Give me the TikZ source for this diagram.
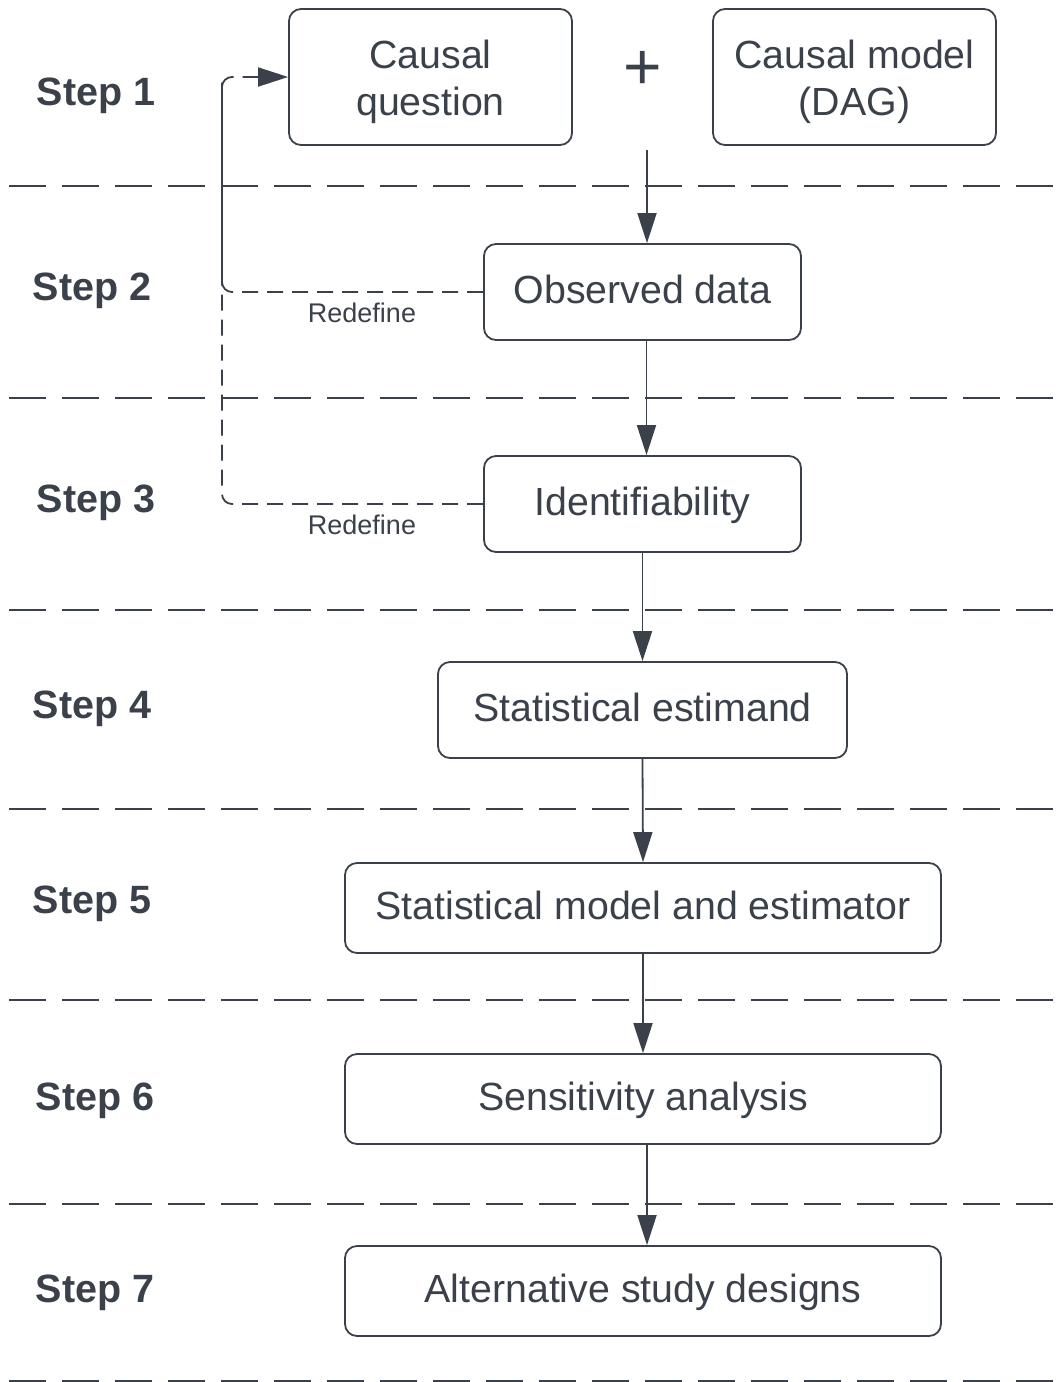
\documentclass[tikz,border=0pt]{standalone}
\usepackage{fontspec}
\setmainfont{Liberation Sans}
\usetikzlibrary{arrows.meta,calc}
\definecolor{ink}{HTML}{3A414A}
\begin{document}
\begin{tikzpicture}[x=1pt,y=-1pt,
  boxbase/.style={draw=ink,line width=1.8pt,rounded corners=12pt,text=ink,align=center,
    font=\fontsize{39.3}{47}\selectfont,inner sep=0pt},
  box/.style={boxbase,text height=28pt,text depth=6pt},
  boxtext/.style={text=ink,align=center,font=\fontsize{39.3}{47}\selectfont,inner sep=0pt},
  steplabel/.style={text=ink,font=\fontsize{39.5}{44}\selectfont\bfseries},
  sep/.style={draw=ink,line width=1.8pt,dash pattern=on 37pt off 16pt},
  flow/.style={draw=ink,line width=1.8pt,-{Triangle[width=19pt,length=30pt]}},
  loop/.style={draw=ink,line width=1.8pt,dash pattern=on 16pt off 9pt,rounded corners=10pt},
  note/.style={text=ink,font=\fontsize{27}{32}\selectfont}]
\useasboundingbox (0,0) rectangle (1063,1382);

% stage separators
\foreach \yy in {186,398,610,809,1000,1204,1381}
  \draw[sep] (9,\yy) -- (1063,\yy);

% step labels
\node[steplabel] (s1) at (96,96) {Step 1};
\node[steplabel] (s2) at (92,291) {Step 2};
\node[steplabel] (s3) at (96,503) {Step 3};
\node[steplabel] (s4) at (92,709) {Step 4};
\node[steplabel] (s5) at (92,904) {Step 5};
\node[steplabel] (s6) at (95,1101) {Step 6};
\node[steplabel] (s7) at (95,1293) {Step 7};

% step 1: two inputs joined by a plus
\node[boxbase,minimum width=283pt,minimum height=136pt] (cq) at (430.5,77) {};
\node[boxtext] (cqtext) at ($(cq.center)+(0,5)$) {Causal\\question};
\node[boxbase,minimum width=283pt,minimum height=136pt] (cm) at (854.5,77) {};
\node[boxtext] (cmtext) at ($(cm.center)+(0,5)$) {Causal model\\(DAG)};
\node[text=ink,font=\fontsize{66}{66}\selectfont,inner sep=0pt] (plus) at (643,70) {+};

% later steps
\node[box,minimum width=317pt,minimum height=96pt] (obs) at (642.5,292) {Observed data};
\node[box,minimum width=317pt,minimum height=96pt] (ident) at (642.5,504) {Identifiability};
\node[box,minimum width=409pt,minimum height=96pt] (est) at (642.5,710) {Statistical estimand};
\node[box,minimum width=596pt,minimum height=90pt] (model) at (643,908) {Statistical model and estimator};
\node[box,minimum width=596pt,minimum height=90pt] (sens) at (643,1099) {Sensitivity analysis};
\node[box,minimum width=596pt,minimum height=90pt] (alt) at (643,1291) {Alternative study designs};

% main flow
\coordinate (join) at (647,150);
\draw[flow] (join) -- (join |- obs.north);
\draw[flow] ($(obs.south)+(4,0)$) -- ($(ident.north)+(4,0)$);
\draw[flow] (ident.south) -- (est.north);
\draw[flow] (est.south) -- (model.north);
\draw[flow] (model.south) -- (sens.north);
\draw[flow] ($(sens.south)+(4,0)$) -- ($(alt.north)+(4,0)$);

% feedback loops
\coordinate (back) at (222,77);
\draw[loop] (obs.west) -- (obs.west -| back) -- (back);
\draw[loop,-{Triangle[width=19pt,length=30pt]}] (ident.west) -- (ident.west -| back) -- (back) -- (cq.west);
\node[note] (r1) at (362,313) {Redefine};
\node[note] (r2) at (362,525) {Redefine};
\end{tikzpicture}
\end{document}
